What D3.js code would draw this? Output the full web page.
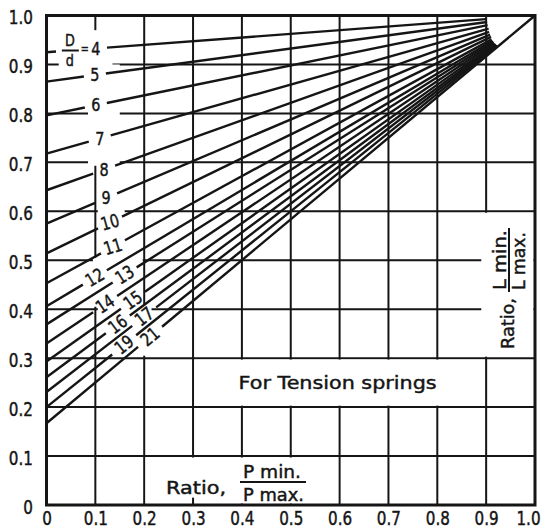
<!DOCTYPE html>
<html><head><meta charset="utf-8">
<script src="https://cdn.jsdelivr.net/npm/d3@7/dist/d3.min.js"></script>
<style>body{margin:0;background:#fff}svg{display:block;background:#fff}text{stroke:#151515;stroke-width:0.45px}</style>
</head><body>
<svg id="c" width="542" height="529"></svg>
<script>
// ---------- data ----------
const ratioDd      = [4, 5, 6, 7, 8, 9, 10, 11, 12, 13, 14, 15, 16, 17, 19, 21];
const lRatioAtZero = [0.925, 0.865, 0.796, 0.718, 0.643, 0.575, 0.514, 0.453, 0.406, 0.369, 0.330, 0.293, 0.261, 0.231, 0.200, 0.167];
const lineEndP     = [0.900, 0.902, 0.903, 0.905, 0.906, 0.908, 0.910, 0.911, 0.913, 0.915, 0.916, 0.918, 0.920, 0.921, 0.923, 1.000];
const xTicks       = [0, 0.1, 0.2, 0.3, 0.4, 0.5, 0.6, 0.7, 0.8, 0.9, 1.0];
const xTickLabels  = ["0", "0.1", "0.2", "0.3", "0.4", "0.5", "0.6", "0.7", "0.8", "0.9", "1.0"];
const yTicks       = [0, 0.1, 0.2, 0.3, 0.4, 0.5, 0.6, 0.7, 0.8, 0.9, 1.0];
const yTickLabels  = ["0", "0.1", "0.2", "0.3", "0.4", "0.5", "0.6", "0.7", "0.8", "0.9", "1.0"];
const titleText    = "For Tension springs";

// ---------- layout ----------
const labelP = [0.101, 0.099, 0.101, 0.109, 0.118, 0.122, 0.130, 0.136, 0.099, 0.160, 0.120, 0.177, 0.146, 0.200, 0.159, 0.212];
const ink = "#151515";
const FONT = "'DejaVu Sans', 'Liberation Sans', sans-serif";
const SX = 0.8;

const svg = d3.select("#c");
const x = d3.scaleLinear().domain([0, 1]).range([46.5, 535]);
const y = d3.scaleLinear().domain([0, 1]).range([505, 15.5]);

// grid
const inner = xTicks.slice(1, -1);
const grid = svg.append("g").attr("stroke", ink).attr("stroke-width", 2);
grid.selectAll("line.v").data(inner).join("line").attr("class", "v")
  .attr("x1", d => x(d)).attr("x2", d => x(d)).attr("y1", y(0)).attr("y2", y(1));
grid.selectAll("line.h").data(yTicks.slice(1, -1)).join("line").attr("class", "h")
  .attr("y1", d => y(d)).attr("y2", d => y(d)).attr("x1", x(0)).attr("x2", x(1));

// blank areas (label boxes)
const masks = [
  [0.303, 0.897, 0.203, 0.297],
  [0.890, 0.997, 0.303, 0.597],
  [0.203, 0.597, 0.003, 0.097],
  [0.025, 0.135, 0.895, 0.970],
  [0.085, 0.150, 0.693, 0.900],
  [0.105, 0.160, 0.595, 0.605],
  [0.095, 0.197, 0.405, 0.505],
  [0.105, 0.215, 0.305, 0.410]
];
svg.append("g").selectAll("rect").data(masks).join("rect")
  .attr("fill", "#fff")
  .attr("x", d => x(d[0])).attr("width", d => x(d[1]) - x(d[0]))
  .attr("y", d => y(d[3])).attr("height", d => y(d[2]) - y(d[3]));

// small tick at 0.3
svg.append("line").attr("stroke", ink).attr("stroke-width", 2)
  .attr("x1", x(0.3)).attr("x2", x(0.3)).attr("y1", y(0)).attr("y2", y(0.015));

// frame
svg.append("rect").attr("x", x(0)).attr("y", y(1)).attr("width", x(1) - x(0)).attr("height", y(0) - y(1))
  .attr("fill", "none").attr("stroke", ink).attr("stroke-width", 3);

// data lines
const L = ratioDd.map((d, i) => ({ d, y0: lRatioAtZero[i], end: lineEndP[i], lab: labelP[i] }));
const f = (l, p) => l.y0 + (1 - l.y0) * p;
const lineGen = d3.line().x(p => x(p[0])).y(p => y(p[1]));
const segs = [];
L.forEach(l => {
  let g0, g1;
  if (l.d === 4) { g0 = x.invert(56); g1 = x.invert(107); }
  else {
    const cx = x(l.lab), hw = l.d < 10 ? 11 : 12;
    g0 = x.invert(cx - hw); g1 = x.invert(cx + hw);
  }
  segs.push([[0, f(l, 0)], [g0, f(l, g0)]]);
  segs.push([[g1, f(l, g1)], [l.end, f(l, l.end)]]);
});
svg.append("g").selectAll("path").data(segs).join("path")
  .attr("d", lineGen).attr("fill", "none").attr("stroke", ink)
  .attr("stroke-width", 2.4).attr("stroke-linecap", "butt");

// line labels
const lab = svg.append("g").attr("font-family", FONT).attr("font-size", 18).attr("fill", ink);
L.forEach(l => {
  const px = x(l.lab), py = y(f(l, l.lab));
  const ang = -Math.atan((y(f(l, 0)) - y(f(l, 1))) / (x(1) - x(0))) * 180 / Math.PI;
  let rot = 0;
  if (l.d >= 12) rot = ang; else if (l.d >= 10) rot = ang * 0.6;
  lab.append("text").attr("text-anchor", "middle").attr("dominant-baseline", "central")
    .attr("transform", `translate(${px},${py}) rotate(${rot}) scale(${SX},1)`)
    .text(l.d);
  if (l.d === 4) {
    const g = lab.append("g").attr("transform", `translate(${px},${py})`);
    g.append("text").attr("text-anchor", "middle").attr("dominant-baseline", "central")
      .attr("transform", "translate(-26,-8) scale(0.8,1)").attr("font-size", 16).text("D");
    g.append("text").attr("text-anchor", "middle").attr("dominant-baseline", "central")
      .attr("transform", "translate(-26,12) scale(0.8,1)").attr("font-size", 16).text("d");
    g.append("line").attr("x1", -34).attr("x2", -17).attr("y1", 2).attr("y2", 2)
      .attr("stroke", ink).attr("stroke-width", 2);
    g.append("text").attr("text-anchor", "middle").attr("dominant-baseline", "central")
      .attr("transform", "translate(-11,1) scale(0.8,1)").attr("font-size", 12).text("=");
  }
});

// axes
const yAx = svg.append("g").attr("transform", `translate(${x(0)},0)`)
  .call(d3.axisLeft(y).tickValues(yTicks).tickFormat((d, i) => yTickLabels[i]).tickSize(0).tickPadding(0));
yAx.select(".domain").remove();
yAx.selectAll("text").attr("font-family", FONT).attr("font-size", 19).attr("fill", ink)
  .attr("x", -13.5 / SX).attr("y", 2).attr("transform", `scale(${SX},1)`);

const xAx = svg.append("g").attr("transform", `translate(0,${y(0)})`)
  .call(d3.axisBottom(x).tickValues(xTicks).tickFormat((d, i) => xTickLabels[i]).tickSize(0).tickPadding(7));
xAx.select(".domain").remove();
xAx.selectAll("text").attr("font-family", FONT).attr("font-size", 19).attr("fill", ink)
  .attr("transform", `scale(${SX},1)`)
  .attr("x", d => d === 1 ? -7 / SX : 0);

// titles
const T = svg.append("g").attr("font-family", FONT).attr("fill", ink);
T.append("text").attr("x", (x(0.3) + x(0.9)) / 2 - 2).attr("y", y(0.25)).attr("dominant-baseline", "central")
  .attr("text-anchor", "middle").attr("font-size", 18).attr("textLength", 198).attr("lengthAdjust", "spacingAndGlyphs")
  .text(titleText);

// bottom axis title: Ratio, P min./P max.
T.append("text").attr("x", 166).attr("y", 487).attr("dominant-baseline", "central").attr("font-size", 18)
  .attr("textLength", 60).attr("lengthAdjust", "spacingAndGlyphs").text("Ratio,");
T.append("text").attr("x", 243).attr("y", 471).attr("dominant-baseline", "central").attr("font-size", 18)
  .attr("textLength", 58).attr("lengthAdjust", "spacingAndGlyphs").text("P min.");
T.append("line").attr("x1", 240).attr("x2", 306).attr("y1", 482).attr("y2", 482).attr("stroke", ink).attr("stroke-width", 2);
T.append("text").attr("x", 243).attr("y", 494).attr("dominant-baseline", "central").attr("font-size", 18)
  .attr("textLength", 61).attr("lengthAdjust", "spacingAndGlyphs").text("P max.");

// right axis title: Ratio, L min./L max.
const R = T.append("g").attr("transform", "translate(509,260) rotate(-90)");
R.append("text").attr("x", -38).attr("y", -1).attr("text-anchor", "end").attr("dominant-baseline", "central")
  .attr("font-size", 17).attr("textLength", 51).attr("lengthAdjust", "spacingAndGlyphs").text("Ratio,");
R.append("text").attr("x", 0).attr("y", -9).attr("text-anchor", "middle").attr("dominant-baseline", "central")
  .attr("font-size", 17).attr("textLength", 60).attr("lengthAdjust", "spacingAndGlyphs").text("L min.");
R.append("line").attr("x1", -32).attr("x2", 32).attr("y1", 0).attr("y2", 0).attr("stroke", ink).attr("stroke-width", 2);
R.append("text").attr("x", -1).attr("y", 10).attr("text-anchor", "middle").attr("dominant-baseline", "central")
  .attr("font-size", 17).attr("textLength", 58).attr("lengthAdjust", "spacingAndGlyphs").text("L max.");
</script>
</body></html>
